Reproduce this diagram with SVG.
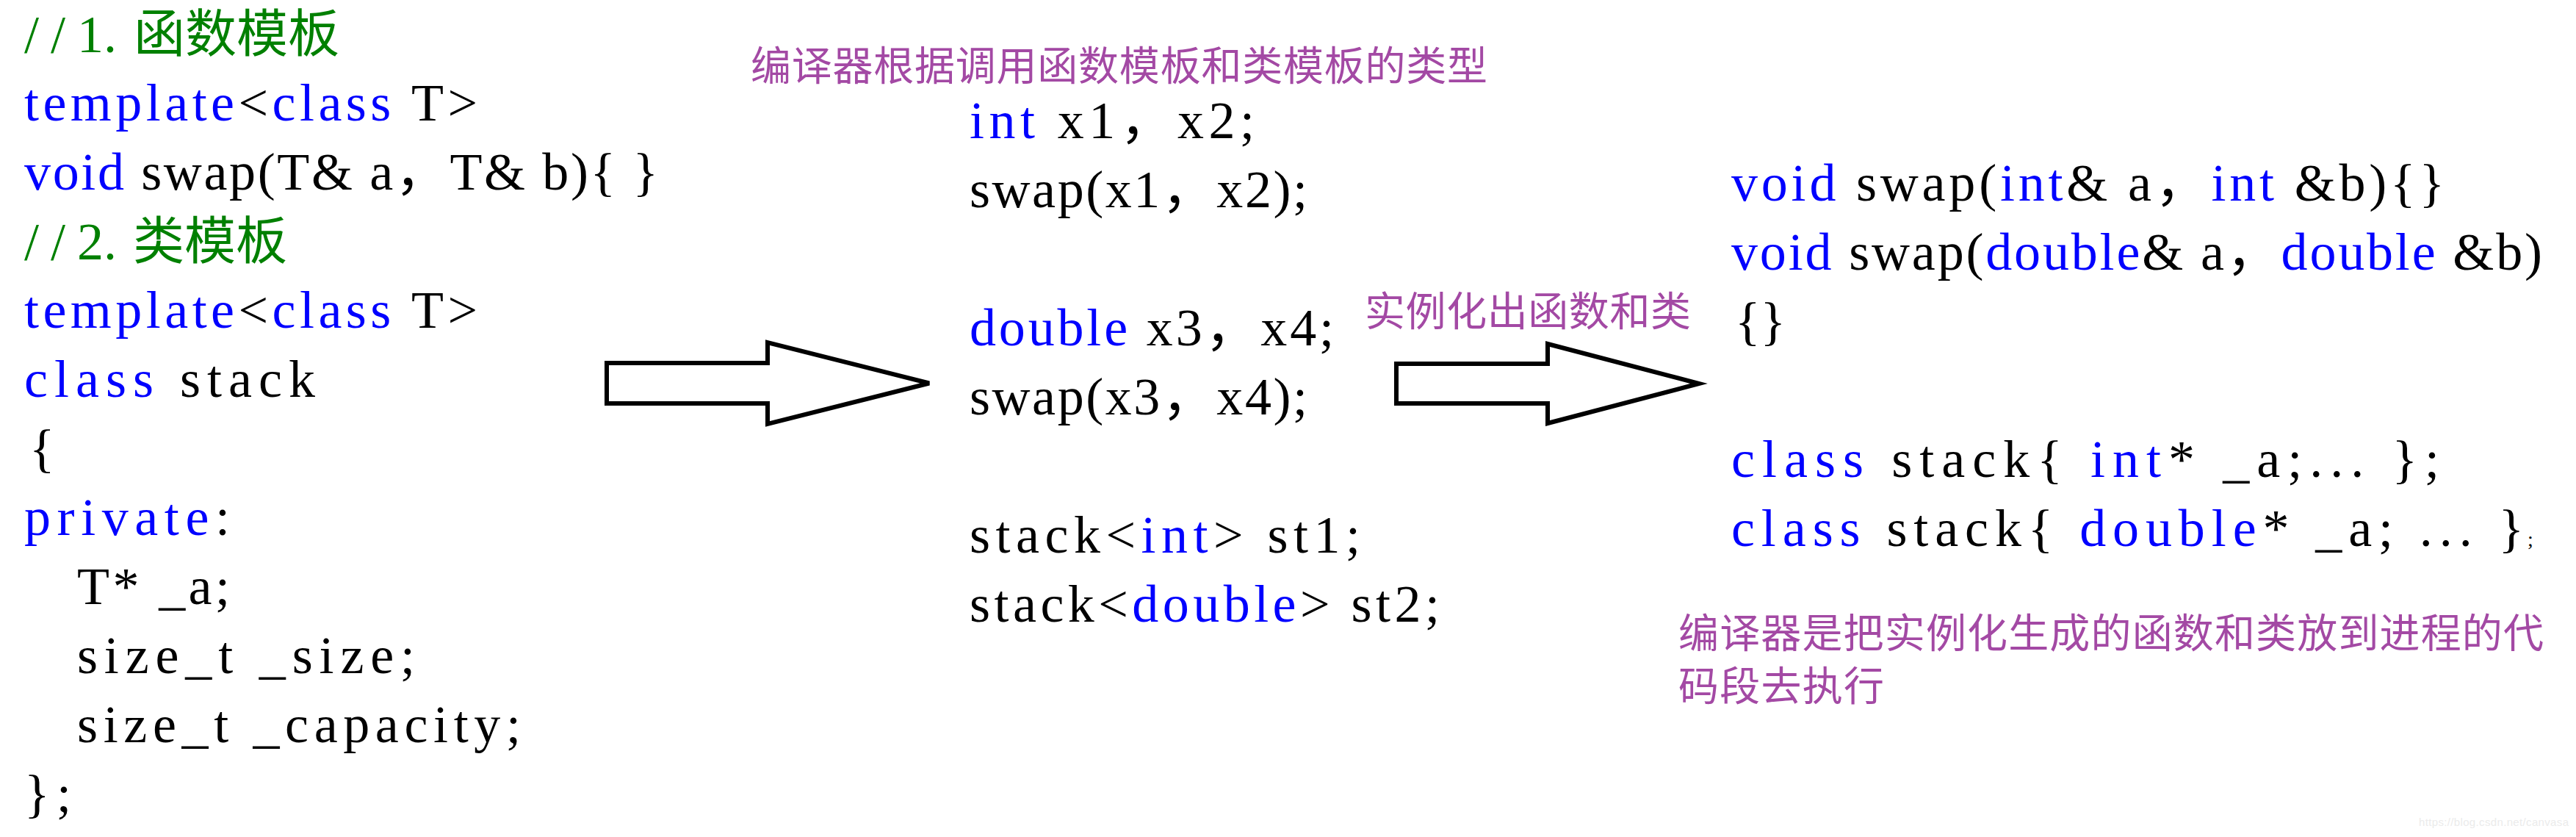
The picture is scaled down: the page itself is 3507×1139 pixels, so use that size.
<svg xmlns="http://www.w3.org/2000/svg" width="3507" height="1139" viewBox="0 0 3507 1139">
<style>
.code { font-family: "Liberation Serif", "Noto Sans CJK SC", serif; font-size: 72px; fill: #000000; }
.kw { fill: #0000ff; }
.cm { fill: #008000; }
.cjk { font-family: "Noto Sans CJK SC", sans-serif; font-size: 70px; }
.cap { font-family: "Noto Sans CJK SC", sans-serif; font-size: 55px; fill: #a349a4; }
.arrow { fill: #ffffff; stroke: #000000; stroke-width: 6; }
.wm { font-family: "Liberation Sans", Arial, sans-serif; font-size: 15px; fill: #ebebeb; }
</style>
<rect width="3507" height="1139" fill="#ffffff"/>

<g id="template-code">
<text class="code cm" x="33" y="71"><tspan dx="0 16 16 0">//1.</tspan><tspan class="cjk" x="182">函数模板</tspan></text>
<text class="code" x="33" y="164" textLength="617"><tspan class="kw">template</tspan>&lt;<tspan class="kw">class</tspan> T&gt;</text>
<text class="code" x="33" y="258" textLength="863"><tspan class="kw">void</tspan> swap(T&amp; a，T&amp; b){ }</text>
<text class="code cm" x="33" y="353"><tspan dx="0 16 16 0">//2.</tspan><tspan class="cjk" x="181">类模板</tspan></text>
<text class="code" x="33" y="446" textLength="617"><tspan class="kw">template</tspan>&lt;<tspan class="kw">class</tspan> T&gt;</text>
<text class="code" x="33" y="540" textLength="396"><tspan class="kw">class</tspan> stack</text>
<text class="code" x="40" y="634">{</text>
<text class="code" x="33" y="728" textLength="280"><tspan class="kw">private</tspan>:</text>
<text class="code" x="105" y="822" textLength="208">T* _a;</text>
<text class="code" x="105" y="916" textLength="460">size_t _size;</text>
<text class="code" x="105" y="1010" textLength="604">size_t _capacity;</text>
<text class="code" x="33" y="1104" textLength="64">};</text>
</g>

<g id="caption-call">
<text class="cap" x="1022" y="109" textLength="1003">编译器根据调用函数模板和类模板的类型</text>
</g>

<g id="call-code">
<text class="code" x="1320" y="188" textLength="388"><tspan class="kw">int</tspan> x1，x2;</text>
<text class="code" x="1320" y="282" textLength="460">swap(x1，x2);</text>
<text class="code" x="1320" y="470" textLength="496"><tspan class="kw">double</tspan> x3，x4;</text>
<text class="code" x="1320" y="564" textLength="460">swap(x3，x4);</text>
<text class="code" x="1320" y="752" textLength="532">stack&lt;<tspan class="kw">int</tspan>&gt; st1;</text>
<text class="code" x="1320" y="846" textLength="640">stack&lt;<tspan class="kw">double</tspan>&gt; st2;</text>
</g>

<g id="caption-instantiate">
<text class="cap" x="1858" y="443" textLength="444">实例化出函数和类</text>
</g>

<g id="instance-code">
<text class="code" x="2357" y="273" textLength="971"><tspan class="kw">void</tspan> swap(<tspan class="kw">int</tspan>&amp; a，<tspan class="kw">int</tspan> &amp;b){}</text>
<text class="code" x="2357" y="367" textLength="1104"><tspan class="kw">void</tspan> swap(<tspan class="kw">double</tspan>&amp; a，<tspan class="kw">double</tspan> &amp;b)</text>
<text class="code" x="2362" y="461">{}</text>
<text class="code" x="2357" y="649" textLength="964"><tspan class="kw">class</tspan> stack{ <tspan class="kw">int</tspan>* _a;... };</text>
<text class="code" x="2357" y="743" textLength="1079"><tspan class="kw">class</tspan> stack{ <tspan class="kw">double</tspan>* _a; ... }</text>
<text class="code" x="3441" y="743" style="font-size:28px">;</text>
</g>

<g id="caption-code-segment">
<text class="cap" x="2285" y="881" textLength="1178">编译器是把实例化生成的函数和类放到进程的代</text>
<text class="cap" x="2285" y="953" textLength="280">码段去执行</text>
</g>

<g id="connectors">
<path class="arrow" d="M826,494 H1045 V466 L1265,521.5 L1045,577 V549 H826 Z"/>
<path class="arrow" d="M1901,495 H2107 V468 L2313,522 L2107,576 V549 H1901 Z"/>
</g>

<text class="wm" x="3293" y="1124" textLength="204">https://blog.csdn.net/canvasa</text>
</svg>
